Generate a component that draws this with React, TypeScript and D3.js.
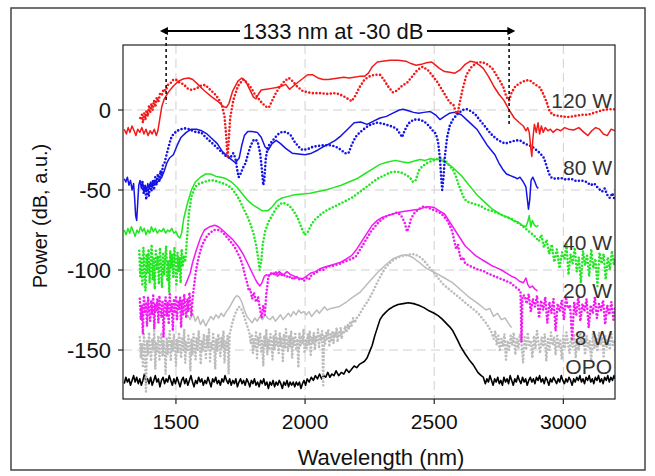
import React from 'react';
import * as d3 from 'd3';

type P = [number, number];

const xTicks = [1500, 2000, 2500, 3000];
const yTicks = [0, -50, -100, -150];
const xDomain: [number, number] = [1295, 3200];
const yDomain: [number, number] = [-180.6, 40.6];
const seriesLabels = ['120 W', '80 W', '40 W', '20 W', '8 W', 'OPO'];
const labelLevels = [6.2, -36, -82.5, -112.5, -142, -160.5];
const spanLeft = 1462;
const spanRight = 2790;
const spanLeftBottom = 4;
const spanRightBottom = -10.6;
const spanText = '1333 nm at -30 dB';

const red120Solid: P[] = [[1300,-12],[1308,-15],[1315,-11],[1322,-14],[1330,-10],[1338,-13],[1345,-16],[1352,-12],[1360,-14],[1368,-11],[1376,-15],[1384,-12],[1392,-16],[1400,-13],[1408,-15],[1416,-12],[1424,-16],[1430,-13],[1437,-6],[1445,2],[1455,7],[1470,11],[1490,15],[1510,18],[1530,19.5],[1550,20],[1565,19],[1585,16],[1610,12],[1640,8],[1665,5],[1685,2],[1695,1.5],[1705,4],[1720,12],[1740,18],[1755,20],[1770,18],[1785,13],[1800,8],[1810,7],[1820,10],[1830,12.5],[1850,13],[1870,13.5],[1890,14],[1910,15],[1925,16],[1940,13],[1955,15],[1970,17],[1990,19.5],[2010,22],[2030,22],[2050,20],[2070,19],[2090,19],[2110,19.5],[2130,20],[2150,20.5],[2170,20],[2190,20.5],[2210,21],[2230,21],[2245,23],[2260,27],[2280,30],[2300,30.5],[2330,31],[2360,31],[2390,30.5],[2410,29],[2430,28],[2450,28.5],[2470,29.5],[2490,30],[2505,28],[2520,26],[2540,24],[2560,23.5],[2580,23],[2600,25],[2620,28.5],[2640,30.5],[2655,30],[2675,28],[2690,26],[2710,21],[2730,15],[2750,10],[2770,6],[2790,0],[2810,-5],[2830,-8],[2845,-10],[2855,-13],[2862,-11],[2868,-14],[2874,-24],[2878,-29],[2882,-18],[2888,-9],[2895,-14],[2902,-8],[2908,-15],[2915,-10],[2922,-14],[2930,-11],[2940,-13],[2950,-12],[2960,-14],[2975,-12],[2990,-13],[3005,-11],[3020,-12],[3040,-12.5],[3060,-11],[3080,-14],[3095,-16],[3110,-13],[3125,-11],[3140,-12],[3155,-15],[3170,-16],[3185,-12],[3200,-13]];

const red120Dotted: P[] = [[1362,-5],[1368,-3],[1372,-8],[1377,-2],[1382,-6],[1386,0],[1391,-4],[1396,3],[1400,-2],[1405,4],[1410,0],[1415,6],[1420,2],[1426,8],[1432,5],[1438,10],[1445,9],[1452,13],[1460,12],[1470,16],[1480,17],[1490,19],[1500,19],[1515,17],[1530,16],[1545,13.5],[1560,12.5],[1580,13.5],[1600,15.5],[1615,15.5],[1630,13],[1650,10],[1665,7],[1678,3],[1688,-4],[1694,-15],[1700,-30],[1704,-20],[1710,-5],[1722,6],[1740,15],[1760,19],[1775,17],[1790,14],[1805,10],[1820,7],[1835,4],[1850,2],[1860,1.5],[1870,5],[1885,10],[1900,14],[1920,18],[1937,20],[1952,18],[1970,14.5],[1990,12],[2010,11],[2030,10.5],[2060,10.5],[2090,10],[2110,10.5],[2130,10],[2150,8.5],[2165,7],[2180,5.5],[2195,9],[2210,14],[2230,19],[2250,21],[2270,22],[2290,22],[2305,19],[2320,15],[2340,11],[2355,12],[2375,15],[2395,17],[2415,21],[2435,25],[2455,27],[2475,25],[2495,21],[2510,18],[2525,14],[2540,10],[2555,6],[2565,4],[2575,3],[2585,-2],[2592,-1],[2598,4],[2610,13],[2625,22],[2645,27],[2665,29.5],[2685,30],[2705,28.5],[2725,26],[2740,22],[2755,18],[2768,14],[2780,8],[2790,6],[2800,11],[2815,15],[2835,17],[2855,18.5],[2870,18.5],[2890,16],[2910,14],[2925,9],[2935,5],[2945,0],[2958,-3],[2975,-3.5],[2995,-4],[3015,-4.5],[3035,-4],[3055,-3.5],[3075,-3],[3095,-3],[3115,-2],[3135,-1],[3155,0],[3175,0.5],[3200,0.5]];

const blue80Solid: P[] = [[1300,-43],[1306,-45],[1312,-42],[1318,-47],[1324,-44],[1330,-50],[1336,-46],[1340,-55],[1344,-66],[1348,-69],[1352,-58],[1356,-47],[1361,-44],[1366,-49],[1371,-45],[1376,-52],[1381,-47],[1386,-51],[1391,-46],[1396,-49],[1402,-45],[1408,-48],[1414,-44],[1420,-46],[1428,-45],[1436,-44],[1445,-42],[1455,-38],[1465,-33],[1475,-30],[1490,-28],[1505,-22],[1520,-17],[1540,-14],[1560,-12],[1580,-12],[1600,-13],[1620,-15],[1640,-18],[1660,-21],[1680,-26],[1700,-29],[1715,-31],[1730,-33],[1745,-30],[1755,-22],[1765,-16],[1778,-13.5],[1795,-13.5],[1815,-14],[1830,-17],[1845,-23],[1858,-25],[1872,-21],[1888,-19],[1905,-21],[1925,-24],[1950,-27],[1975,-27.5],[2000,-28],[2025,-27],[2050,-25],[2070,-23],[2095,-21],[2117,-19],[2140,-16],[2165,-12],[2190,-8],[2215,-7.5],[2240,-9],[2265,-7],[2290,-5],[2315,-4],[2340,-2],[2365,0],[2380,0.5],[2400,-0.5],[2420,-1.5],[2440,-2],[2460,-1.5],[2485,-1],[2505,-3],[2522,-6],[2540,-4],[2560,-2],[2575,-1.5],[2590,-2],[2605,-3],[2625,-6],[2645,-9],[2665,-12],[2685,-17],[2705,-22],[2720,-25],[2735,-28],[2750,-33],[2765,-37],[2780,-40],[2795,-41],[2810,-42],[2822,-43],[2832,-42],[2845,-45],[2855,-48],[2860,-55],[2865,-62],[2870,-56],[2875,-44],[2882,-42],[2890,-45],[2897,-48],[2903,-49]];

const blue80Dotted: P[] = [[1370,-45],[1375,-52],[1380,-47],[1385,-56],[1390,-49],[1395,-54],[1400,-46],[1405,-51],[1410,-44],[1415,-50],[1420,-42],[1425,-47],[1430,-40],[1435,-45],[1440,-38],[1445,-41],[1450,-34],[1456,-33],[1462,-29],[1470,-24],[1480,-18],[1490,-15],[1505,-13],[1520,-12],[1535,-11.5],[1550,-12],[1565,-13],[1580,-14],[1597,-14],[1615,-17],[1635,-20],[1655,-23],[1675,-26],[1695,-29],[1710,-30],[1722,-27],[1730,-30],[1738,-38],[1743,-42],[1750,-40],[1760,-36],[1770,-33],[1778,-28],[1790,-22],[1800,-19],[1810,-18.5],[1818,-21],[1826,-27],[1832,-36],[1838,-47],[1842,-44],[1848,-30],[1856,-23],[1870,-20],[1885,-17],[1900,-14.5],[1915,-13.5],[1930,-14],[1945,-16],[1960,-20],[1975,-23],[1990,-25],[2010,-24.5],[2030,-23],[2050,-22.5],[2075,-22],[2100,-22],[2120,-23],[2140,-25],[2155,-27],[2168,-27],[2180,-22],[2195,-17],[2212,-14],[2235,-11],[2255,-9],[2278,-8],[2300,-8.5],[2320,-9.5],[2340,-10.5],[2355,-12],[2368,-15],[2376,-17],[2385,-13],[2400,-8.5],[2420,-6],[2440,-6],[2460,-7],[2480,-10],[2495,-13],[2507,-15],[2515,-20],[2522,-30],[2527,-42],[2531,-50],[2536,-42],[2542,-28],[2550,-17],[2560,-10],[2572,-6],[2590,-2.5],[2610,0],[2627,0.5],[2645,-1],[2660,-3],[2675,-6],[2690,-9],[2705,-12],[2720,-15],[2740,-18],[2760,-20],[2775,-21],[2795,-20],[2815,-19],[2832,-19],[2850,-21],[2865,-22],[2880,-23],[2895,-25],[2910,-27],[2925,-30],[2935,-35],[2945,-40],[2955,-42.5],[2970,-43],[2990,-42.5],[3010,-43.5],[3030,-43],[3050,-44.5],[3070,-44],[3090,-45],[3105,-47],[3120,-46],[3135,-49],[3150,-51],[3160,-49],[3170,-53],[3180,-55],[3190,-52],[3200,-57]];

const green40Solid: P[] = [[1300,-75],[1307,-78],[1314,-74],[1321,-77],[1328,-73],[1335,-76],[1342,-79],[1349,-75],[1356,-77],[1363,-73],[1370,-76],[1377,-74],[1384,-78],[1391,-75],[1398,-77],[1405,-73],[1412,-76],[1420,-74],[1428,-77],[1436,-75],[1444,-76],[1452,-74],[1460,-77],[1468,-75],[1476,-76],[1484,-74],[1492,-77],[1500,-76],[1508,-79],[1515,-80],[1522,-77],[1530,-68],[1545,-58],[1560,-50],[1575,-45],[1595,-42],[1615,-40],[1635,-40],[1655,-41.5],[1675,-42],[1695,-43],[1715,-45],[1735,-48],[1755,-52],[1775,-56],[1795,-59],[1815,-61],[1835,-63],[1855,-63],[1870,-61],[1890,-57],[1910,-55],[1935,-54],[1960,-53],[1990,-52.5],[2020,-52],[2050,-51],[2080,-50],[2110,-48.5],[2140,-47],[2170,-45],[2200,-43],[2230,-40],[2260,-37],[2290,-34],[2320,-32.5],[2350,-31.5],[2380,-32.5],[2400,-33],[2420,-32],[2445,-31],[2465,-31.5],[2485,-30.5],[2505,-31],[2525,-31],[2545,-33],[2565,-35],[2585,-38],[2605,-41],[2625,-45],[2645,-49],[2665,-53],[2685,-56],[2705,-59],[2725,-62],[2745,-64],[2765,-66],[2785,-67],[2805,-69],[2825,-70],[2840,-72],[2855,-73],[2862,-70],[2868,-66],[2874,-73],[2880,-69],[2888,-72],[2896,-73],[2903,-72]];

const green40Dotted: P[] = [[1358,-88],[1362,-104],[1366,-92],[1370,-110],[1374,-86],[1378,-99],[1382,-113],[1386,-90],[1390,-102],[1394,-87],[1398,-108],[1402,-95],[1406,-84],[1410,-106],[1414,-92],[1418,-112],[1422,-88],[1426,-100],[1430,-91],[1434,-109],[1438,-86],[1442,-97],[1446,-111],[1450,-89],[1454,-103],[1458,-93],[1462,-85],[1466,-107],[1470,-94],[1474,-114],[1478,-88],[1482,-99],[1486,-90],[1490,-105],[1494,-86],[1498,-96],[1502,-110],[1506,-89],[1510,-101],[1514,-92],[1518,-108],[1522,-87],[1526,-98],[1530,-91],[1536,-95],[1542,-82],[1550,-65],[1560,-54],[1575,-48],[1590,-46],[1610,-45],[1630,-44],[1648,-44],[1665,-45],[1685,-46],[1700,-47],[1715,-49],[1730,-52],[1745,-56],[1760,-61],[1775,-66],[1788,-71],[1800,-77],[1810,-84],[1818,-92],[1824,-100],[1830,-95],[1836,-84],[1845,-76],[1858,-70],[1872,-66],[1890,-61],[1910,-58],[1925,-58.5],[1940,-60],[1955,-63],[1970,-67],[1985,-73],[1998,-78],[2008,-77],[2020,-73],[2035,-69],[2055,-66],[2080,-63],[2105,-61],[2130,-59],[2155,-57],[2180,-55],[2205,-52],[2230,-49],[2255,-46],[2280,-43],[2305,-41],[2330,-39],[2350,-38.5],[2370,-39],[2390,-40.5],[2405,-42],[2418,-45],[2428,-44],[2440,-38],[2455,-35],[2475,-33],[2495,-31.5],[2515,-30.5],[2530,-30],[2545,-32],[2560,-35],[2575,-38],[2585,-42],[2595,-47],[2605,-51],[2615,-55],[2625,-57],[2640,-58],[2660,-59],[2680,-60],[2700,-62],[2720,-63],[2740,-64],[2760,-65.5],[2780,-67],[2800,-68],[2815,-70],[2830,-71],[2845,-73],[2860,-75],[2875,-77],[2890,-79],[2905,-82],[2915,-78],[2925,-86],[2935,-81],[2945,-90],[2955,-84],[2965,-95],[2975,-87],[2985,-99],[2995,-89],[3005,-93],[3012,-84],[3020,-103],[3028,-90],[3036,-96],[3044,-86],[3052,-101],[3060,-92],[3068,-108],[3076,-88],[3084,-97],[3092,-91],[3100,-104],[3108,-87],[3116,-99],[3124,-93],[3132,-110],[3140,-89],[3148,-96],[3156,-90],[3164,-106],[3172,-92],[3180,-100],[3188,-88],[3196,-97],[3200,-93]];

const magenta20Solid: P[] = [[1535,-110],[1545,-106],[1555,-102],[1565,-95],[1580,-87],[1595,-80],[1610,-75],[1630,-73],[1650,-72],[1665,-73],[1680,-75],[1700,-78],[1720,-81],[1740,-85],[1760,-90],[1775,-95],[1790,-100],[1805,-105],[1815,-108],[1825,-110],[1833,-108],[1842,-104],[1850,-103],[1860,-103.5],[1872,-102],[1885,-103],[1900,-101],[1915,-103],[1930,-101],[1945,-103],[1960,-104],[1975,-105],[1990,-105.5],[2005,-104],[2020,-102],[2040,-101],[2060,-99],[2080,-98],[2100,-97],[2120,-96],[2140,-95],[2160,-93],[2180,-91],[2200,-87],[2220,-82],[2240,-77],[2260,-72],[2280,-69],[2300,-67],[2320,-66],[2340,-65],[2360,-64],[2380,-63.5],[2400,-63],[2420,-62.5],[2440,-62],[2460,-61],[2480,-60.5],[2500,-61],[2520,-63],[2540,-65],[2560,-70],[2580,-75],[2600,-80],[2620,-85],[2640,-88],[2660,-91],[2680,-93],[2700,-95],[2720,-97],[2740,-98.5],[2760,-100],[2780,-102],[2800,-104],[2815,-105],[2830,-107],[2845,-108],[2855,-105],[2862,-109],[2870,-111],[2880,-110],[2890,-112],[2900,-113]];

const magenta20Dotted: P[] = [[1360,-118],[1364,-131],[1368,-122],[1372,-140],[1376,-116],[1380,-127],[1384,-120],[1388,-135],[1392,-117],[1396,-125],[1400,-132],[1404,-119],[1408,-128],[1412,-115],[1416,-137],[1420,-121],[1424,-126],[1428,-118],[1432,-133],[1436,-116],[1440,-124],[1444,-130],[1448,-119],[1452,-142],[1456,-122],[1460,-117],[1464,-129],[1468,-120],[1472,-134],[1476,-115],[1480,-126],[1484,-121],[1488,-138],[1492,-118],[1496,-127],[1500,-116],[1504,-131],[1508,-120],[1512,-125],[1516,-117],[1520,-136],[1524,-119],[1528,-128],[1532,-115],[1536,-123],[1540,-130],[1544,-118],[1548,-126],[1552,-114],[1556,-121],[1560,-129],[1565,-117],[1570,-110],[1578,-100],[1588,-92],[1600,-85],[1615,-80],[1630,-77],[1648,-75],[1663,-75],[1678,-76],[1695,-79],[1710,-82],[1725,-85],[1738,-89],[1750,-93],[1760,-98],[1768,-104],[1776,-108],[1782,-113],[1788,-112],[1795,-118],[1802,-114],[1810,-120],[1818,-117],[1825,-124],[1832,-130],[1838,-122],[1844,-128],[1850,-115],[1858,-104],[1866,-102],[1875,-103],[1885,-101],[1895,-104],[1905,-102],[1915,-104],[1925,-103],[1935,-105],[1945,-104],[1955,-106],[1965,-104],[1975,-106],[1985,-105],[1995,-107],[2005,-105],[2015,-106],[2025,-103],[2040,-102],[2055,-100],[2070,-100],[2085,-98],[2100,-97.5],[2117,-97],[2135,-96],[2150,-95],[2165,-94],[2180,-93],[2195,-92],[2210,-88],[2225,-84],[2240,-80],[2255,-76],[2270,-73],[2285,-70],[2300,-68],[2320,-66],[2340,-65],[2358,-64],[2372,-66],[2385,-70],[2395,-76],[2402,-73],[2410,-68],[2425,-64],[2440,-62],[2457,-60.5],[2475,-61],[2490,-62],[2505,-63],[2520,-64],[2535,-66],[2550,-69],[2560,-72],[2570,-76],[2578,-82],[2585,-87],[2592,-84],[2598,-90],[2605,-94],[2612,-92],[2620,-96],[2632,-97],[2645,-98],[2660,-99],[2675,-100],[2690,-100.5],[2705,-102],[2720,-103],[2735,-104],[2750,-105],[2765,-106],[2780,-107],[2795,-108],[2810,-110],[2825,-112],[2834,-113],[2838,-145],[2842,-116],[2850,-116],[2858,-121],[2866,-115],[2874,-126],[2882,-118],[2890,-123],[2898,-116],[2906,-130],[2914,-119],[2922,-125],[2930,-117],[2938,-133],[2946,-120],[2954,-127],[2962,-118],[2970,-138],[2978,-121],[2986,-126],[2994,-119],[3002,-131],[3010,-117],[3018,-124],[3026,-122],[3034,-143],[3042,-120],[3050,-128],[3058,-116],[3066,-132],[3074,-121],[3082,-126],[3090,-118],[3098,-136],[3106,-122],[3114,-127],[3122,-117],[3130,-130],[3138,-121],[3146,-125],[3154,-119],[3162,-134],[3170,-122],[3178,-128],[3186,-120],[3194,-131],[3200,-124]];

const gray8Solid: P[] = [[1545,-128],[1555,-131],[1565,-127],[1575,-132],[1585,-129],[1595,-134],[1605,-131],[1615,-135],[1625,-132],[1635,-129],[1645,-131],[1655,-128],[1665,-130],[1675,-127],[1685,-129],[1695,-126],[1705,-124],[1715,-121],[1725,-118],[1735,-116],[1745,-117],[1755,-120],[1765,-125],[1775,-129],[1785,-131],[1795,-133],[1805,-130],[1815,-132],[1825,-129],[1835,-131],[1845,-128],[1855,-130],[1865,-131],[1875,-129],[1885,-132],[1895,-130],[1905,-128],[1915,-131],[1925,-129],[1935,-127],[1945,-129],[1955,-126],[1965,-128],[1975,-125],[1985,-127],[1995,-126],[2005,-128],[2015,-126],[2025,-129],[2035,-127],[2045,-125],[2055,-127],[2065,-125],[2075,-123],[2085,-125],[2100,-124],[2130,-123],[2160,-120],[2185,-117],[2212,-114],[2245,-108],[2278,-102],[2310,-97],[2340,-93],[2370,-91],[2392,-90.5],[2415,-92],[2440,-95],[2470,-99],[2507,-102],[2540,-105],[2572,-108],[2600,-112],[2635,-117],[2670,-121],[2701,-125],[2715,-124],[2730,-129],[2745,-127],[2760,-131],[2775,-130],[2790,-134],[2800,-136]];

const gray8Dotted: P[] = [[1360,-142],[1364,-155],[1368,-146],[1372,-160],[1376,-140],[1380,-151],[1384,-176],[1388,-144],[1392,-153],[1396,-139],[1400,-149],[1404,-157],[1408,-143],[1412,-150],[1416,-138],[1420,-162],[1424,-145],[1428,-152],[1432,-141],[1436,-156],[1440,-147],[1444,-139],[1448,-154],[1452,-144],[1456,-150],[1460,-165],[1464,-142],[1468,-153],[1472,-146],[1476,-138],[1480,-157],[1484,-144],[1488,-151],[1492,-140],[1496,-148],[1500,-160],[1504,-143],[1508,-152],[1512,-139],[1516,-147],[1520,-155],[1524,-142],[1528,-150],[1532,-137],[1536,-158],[1540,-145],[1544,-151],[1548,-141],[1552,-148],[1556,-163],[1560,-143],[1564,-153],[1568,-140],[1572,-147],[1576,-156],[1580,-142],[1584,-150],[1588,-138],[1592,-146],[1596,-159],[1600,-144],[1604,-151],[1608,-140],[1612,-148],[1616,-155],[1620,-141],[1624,-149],[1628,-137],[1632,-157],[1636,-145],[1640,-150],[1644,-139],[1648,-147],[1652,-162],[1656,-143],[1660,-151],[1664,-140],[1668,-146],[1672,-154],[1676,-142],[1680,-149],[1684,-138],[1688,-158],[1692,-144],[1696,-150],[1700,-141],[1704,-165],[1708,-140],[1714,-136],[1720,-132],[1728,-128],[1736,-125],[1744,-123],[1752,-124],[1760,-127],[1768,-131],[1776,-135],[1784,-139],[1790,-146],[1794,-140],[1798,-152],[1802,-143],[1806,-149],[1810,-138],[1814,-155],[1818,-142],[1822,-147],[1826,-139],[1830,-151],[1834,-144],[1838,-160],[1842,-141],[1846,-148],[1850,-137],[1854,-153],[1858,-143],[1862,-149],[1866,-140],[1870,-146],[1874,-156],[1878,-141],[1882,-150],[1886,-138],[1890,-147],[1894,-143],[1898,-152],[1902,-139],[1906,-148],[1910,-142],[1914,-157],[1918,-140],[1922,-149],[1926,-137],[1930,-146],[1934,-151],[1938,-141],[1942,-148],[1946,-138],[1950,-155],[1954,-142],[1958,-147],[1962,-140],[1966,-150],[1970,-143],[1974,-161],[1978,-139],[1982,-148],[1986,-141],[1990,-146],[1994,-137],[1998,-152],[2002,-143],[2006,-149],[2010,-140],[2014,-147],[2018,-138],[2022,-153],[2026,-142],[2030,-146],[2034,-139],[2038,-150],[2042,-141],[2046,-145],[2050,-137],[2054,-149],[2058,-140],[2062,-144],[2066,-138],[2070,-172],[2074,-141],[2078,-146],[2082,-139],[2086,-143],[2090,-137],[2094,-148],[2098,-140],[2102,-144],[2106,-138],[2110,-146],[2114,-139],[2118,-142],[2122,-136],[2126,-145],[2130,-139],[2134,-141],[2138,-136],[2142,-143],[2146,-138],[2150,-140],[2155,-135],[2160,-139],[2165,-134],[2170,-137],[2175,-132],[2180,-135],[2186,-130],[2192,-133],[2200,-130],[2210,-128],[2220,-125],[2232,-122],[2245,-119],[2258,-115],[2270,-111],[2282,-107],[2295,-103],[2310,-99],[2325,-96],[2340,-94],[2355,-92.5],[2370,-91.5],[2385,-91],[2400,-90.5],[2415,-90],[2430,-90.5],[2445,-92],[2460,-94],[2475,-97],[2490,-100],[2505,-103],[2520,-106],[2535,-109],[2550,-111],[2565,-113],[2580,-115],[2595,-117],[2610,-119],[2625,-121],[2640,-123],[2655,-125],[2670,-127],[2685,-130],[2700,-133],[2712,-136],[2722,-139],[2730,-143],[2736,-138],[2742,-147],[2748,-141],[2754,-151],[2760,-143],[2766,-148],[2772,-140],[2778,-156],[2784,-144],[2790,-150],[2796,-141],[2802,-147],[2808,-139],[2814,-153],[2820,-143],[2826,-149],[2832,-140],[2838,-146],[2844,-158],[2850,-142],[2856,-150],[2862,-139],[2868,-147],[2874,-144],[2880,-155],[2886,-141],[2892,-149],[2898,-138],[2904,-146],[2910,-152],[2916,-142],[2922,-148],[2928,-140],[2934,-157],[2940,-143],[2946,-150],[2952,-139],[2958,-147],[2964,-142],[2970,-153],[2976,-140],[2982,-148],[2988,-144],[2994,-156],[3000,-141],[3006,-149],[3012,-139],[3018,-146],[3024,-152],[3030,-142],[3036,-148],[3042,-140],[3048,-155],[3054,-143],[3060,-150],[3066,-139],[3072,-147],[3078,-142],[3084,-153],[3090,-141],[3096,-148],[3102,-144],[3108,-157],[3114,-140],[3120,-149],[3126,-143],[3132,-151],[3138,-139],[3144,-147],[3150,-142],[3156,-154],[3162,-141],[3168,-148],[3174,-144],[3180,-150],[3186,-140],[3192,-147],[3200,-143]];

const opoSolid: P[] = [[1300,-171],[1306,-167],[1312,-170],[1318,-168],[1324,-172],[1330,-169],[1336,-166],[1342,-170],[1348,-167],[1354,-171],[1360,-168],[1366,-172],[1372,-169],[1378,-165],[1384,-170],[1390,-168],[1396,-171],[1402,-167],[1408,-172],[1414,-169],[1420,-166],[1426,-170],[1432,-168],[1438,-173],[1444,-169],[1450,-167],[1456,-171],[1462,-168],[1468,-170],[1474,-166],[1480,-169],[1486,-172],[1492,-168],[1498,-171],[1504,-167],[1510,-170],[1516,-173],[1522,-169],[1528,-167],[1534,-171],[1540,-168],[1546,-172],[1552,-169],[1558,-166],[1564,-170],[1570,-173],[1576,-169],[1582,-171],[1588,-167],[1594,-170],[1600,-168],[1606,-172],[1612,-169],[1618,-171],[1624,-167],[1630,-170],[1636,-173],[1642,-168],[1648,-170],[1654,-167],[1660,-171],[1666,-169],[1672,-172],[1678,-168],[1684,-170],[1690,-166],[1696,-169],[1702,-171],[1708,-168],[1714,-172],[1720,-169],[1726,-171],[1732,-168],[1738,-173],[1744,-170],[1750,-168],[1756,-171],[1762,-169],[1768,-172],[1774,-168],[1780,-170],[1786,-173],[1792,-169],[1798,-171],[1804,-168],[1810,-172],[1816,-170],[1822,-173],[1828,-169],[1834,-171],[1840,-168],[1846,-172],[1852,-170],[1858,-174],[1864,-170],[1870,-172],[1876,-169],[1882,-173],[1888,-170],[1894,-172],[1900,-169],[1906,-171],[1912,-174],[1918,-170],[1924,-172],[1930,-169],[1936,-173],[1942,-170],[1948,-172],[1954,-170],[1960,-173],[1966,-170],[1972,-172],[1978,-170],[1984,-174],[1990,-171],[1996,-169],[2002,-172],[2008,-168],[2016,-170],[2024,-167],[2032,-169],[2040,-166],[2048,-168],[2056,-165],[2064,-168],[2072,-166],[2080,-167],[2088,-164],[2096,-167],[2104,-165],[2112,-166],[2120,-163],[2130,-166],[2140,-164],[2150,-165],[2160,-162],[2170,-164],[2180,-162],[2190,-160],[2200,-161],[2210,-159],[2220,-158],[2230,-157],[2240,-155],[2250,-151],[2260,-147],[2270,-141],[2280,-136],[2290,-131],[2300,-128.5],[2312,-126.5],[2325,-124.5],[2340,-123],[2360,-121.5],[2380,-121],[2400,-120.5],[2420,-121],[2440,-122],[2460,-123.5],[2480,-125.5],[2500,-127],[2515,-128.5],[2530,-130.5],[2545,-133],[2560,-135.5],[2572,-138],[2588,-143],[2603,-148],[2620,-152.5],[2635,-156],[2650,-159],[2669,-164],[2682,-166],[2690,-167],[2698,-171],[2704,-168],[2710,-170],[2716,-166],[2722,-169],[2728,-172],[2734,-168],[2740,-170],[2746,-167],[2752,-171],[2758,-169],[2764,-172],[2770,-167],[2776,-170],[2782,-168],[2788,-171],[2794,-166],[2800,-169],[2806,-172],[2812,-168],[2818,-170],[2824,-166],[2830,-169],[2836,-171],[2842,-167],[2848,-170],[2854,-168],[2860,-172],[2866,-169],[2872,-167],[2878,-170],[2884,-168],[2890,-171],[2896,-167],[2902,-169],[2908,-166],[2914,-170],[2920,-168],[2926,-171],[2932,-167],[2938,-169],[2944,-172],[2950,-168],[2956,-170],[2962,-167],[2968,-169],[2974,-171],[2980,-168],[2986,-170],[2992,-166],[2998,-169],[3004,-171],[3010,-168],[3016,-170],[3022,-167],[3028,-169],[3034,-172],[3040,-168],[3046,-170],[3052,-167],[3058,-169],[3064,-166],[3070,-170],[3076,-168],[3082,-171],[3088,-167],[3094,-169],[3100,-166],[3106,-170],[3112,-168],[3118,-171],[3124,-167],[3130,-169],[3136,-166],[3142,-170],[3148,-168],[3154,-171],[3160,-167],[3166,-169],[3172,-166],[3178,-170],[3184,-167],[3190,-169],[3196,-166],[3200,-168]];

const COLORS = {
  red: '#f21a1a',
  blue: '#1414e6',
  green: '#22e622',
  magenta: '#f21af2',
  gray: '#bcbcbc',
  black: '#000000',
};

const W = 655;
const H = 476;
const M = { left: 123, right: 615, top: 45, bottom: 399 };
const FONT = '"Liberation Sans", Arial, sans-serif';

export default function App() {
  const x = d3.scaleLinear().domain(xDomain).range([M.left, M.right]);
  const y = d3.scaleLinear().domain(yDomain).range([M.bottom, M.top]);
  const line = d3.line<P>().x((d) => x(d[0])).y((d) => y(d[1]));

  const solid = (data: P[], color: string, key: string, w = 1.5) => (
    <path key={key} d={line(data) || ''} fill="none" stroke={color} strokeWidth={w} strokeLinejoin="round" />
  );
  const dotted = (data: P[], color: string, key: string) => (
    <path key={key} d={line(data) || ''} fill="none" stroke={color} strokeWidth={2.6}
      strokeDasharray="0 3.6" strokeLinecap="round" strokeLinejoin="round" />
  );

  const yArrow = 31;
  const xl = x(spanLeft);
  const xr = x(spanRight);
  const textCx = 333;

  return (
    <svg width={W} height={H} style={{ position: 'absolute', left: 0, top: 0, background: '#fff' }}
      fontFamily={FONT}>
      <defs>
        <clipPath id="plotClip">
          <rect x={M.left} y={M.top} width={M.right - M.left} height={M.bottom - M.top} />
        </clipPath>
        <marker id="arrowL" viewBox="0 0 10 10" refX="1" refY="5" markerWidth="9" markerHeight="8" orient="auto-start-reverse" markerUnits="userSpaceOnUse">
          <path d="M0,0 L10,5 L0,10 z" fill="#000" />
        </marker>
      </defs>
      <rect x={11} y={8} width={634} height={462} fill="#fff" stroke="#444" strokeWidth={1.5} />

      {/* grid */}
      <g stroke="#d0d0d0" strokeWidth={1} strokeDasharray="9 5">
        {xTicks.map((t) => (
          <line key={'gx' + t} x1={x(t)} x2={x(t)} y1={M.top} y2={M.bottom} />
        ))}
        {yTicks.map((t) => (
          <line key={'gy' + t} x1={M.left} x2={M.right} y1={y(t)} y2={y(t)} />
        ))}
      </g>

      {/* data */}
      <g clipPath="url(#plotClip)">
        {solid(opoSolid, COLORS.black, 'opo', 1.6)}
        {dotted(gray8Dotted, COLORS.gray, 'g8d')}
        {solid(gray8Solid, COLORS.gray, 'g8s')}
        {dotted(magenta20Dotted, COLORS.magenta, 'm20d')}
        {solid(magenta20Solid, COLORS.magenta, 'm20s')}
        {dotted(green40Dotted, COLORS.green, 'g40d')}
        {solid(green40Solid, COLORS.green, 'g40s')}
        {dotted(blue80Dotted, COLORS.blue, 'b80d')}
        {solid(blue80Solid, COLORS.blue, 'b80s')}
        {dotted(red120Dotted, COLORS.red, 'r120d')}
        {solid(red120Solid, COLORS.red, 'r120s')}
      </g>

      {/* plot frame */}
      <rect x={M.left} y={M.top} width={M.right - M.left} height={M.bottom - M.top} fill="none" stroke="#222" strokeWidth={1.2} />

      {/* axes ticks & labels */}
      <g stroke="#222" strokeWidth={1.2}>
        {xTicks.map((t) => (
          <line key={'tx' + t} x1={x(t)} x2={x(t)} y1={M.bottom} y2={M.bottom + 5} />
        ))}
        {yTicks.map((t) => (
          <line key={'ty' + t} x1={M.left - 5} x2={M.left} y1={y(t)} y2={y(t)} />
        ))}
      </g>
      <g fontSize={21} fill="#111">
        {xTicks.map((t) => (
          <text key={'lx' + t} x={x(t)} y={429} textAnchor="middle">{t}</text>
        ))}
      </g>
      <g fontSize={22} fill="#111">
        {yTicks.map((t) => (
          <text key={'ly' + t} x={111} y={y(t)} dy="0.36em" textAnchor="end">{t}</text>
        ))}
      </g>
      <text x={381} y={465} fontSize={22} textAnchor="middle" fill="#111">Wavelength (nm)</text>
      <text transform={`translate(47,216) rotate(-90)`} fontSize={20} textAnchor="middle" fill="#111">Power (dB, a.u.)</text>

      {/* series labels */}
      <g fontSize={21} fill="#333" textAnchor="end">
        {seriesLabels.map((s, i) => (
          <text key={s} x={612} y={y(labelLevels[i])} dy="0.36em">{s}</text>
        ))}
      </g>

      {/* annotation */}
      <g stroke="#111" strokeWidth={1.6} strokeDasharray="3 3">
        <line x1={xl} x2={xl} y1={yArrow} y2={y(spanLeftBottom)} />
        <line x1={xr} x2={xr} y1={yArrow} y2={y(spanRightBottom)} />
      </g>
      <g stroke="#000" strokeWidth={2}>
        <line x1={xl + 1} x2={240} y1={yArrow} y2={yArrow} markerStart="url(#arrowL)" />
        <line x1={427} x2={xr - 1} y1={yArrow} y2={yArrow} markerEnd="url(#arrowL)" />
      </g>
      <text x={textCx} y={yArrow} dy="0.36em" fontSize={22} textAnchor="middle" fill="#111">{spanText}</text>
    </svg>
  );
}
